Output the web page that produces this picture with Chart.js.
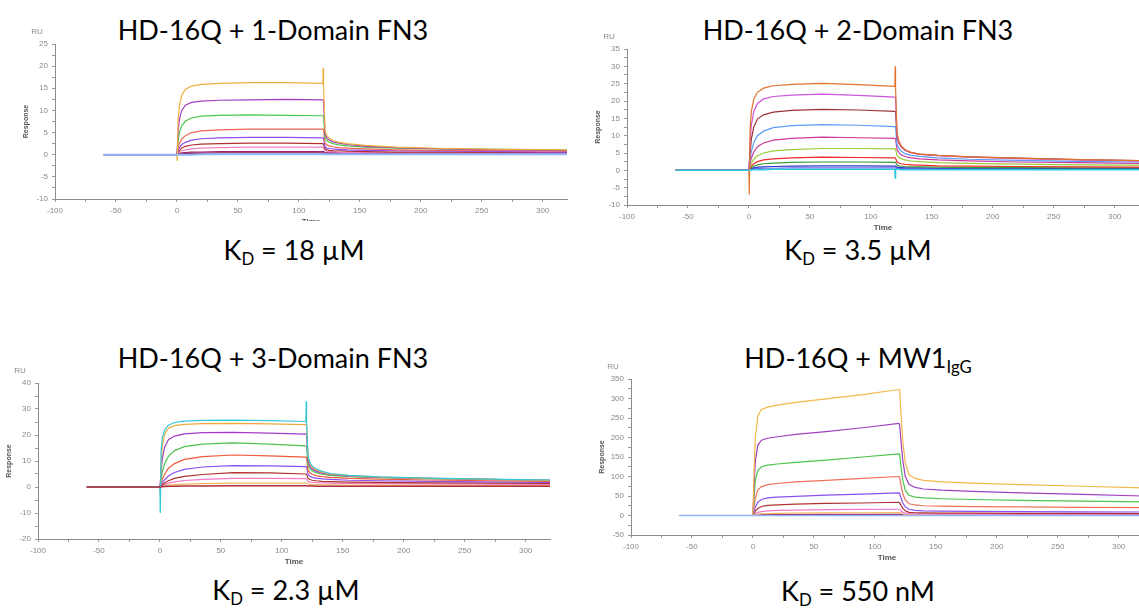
<!DOCTYPE html>
<html><head><meta charset="utf-8">
<script src="https://cdn.jsdelivr.net/npm/chart.js@4.4.1/dist/chart.umd.min.js"></script>
<style>
html,body{margin:0;padding:0;background:#fff;width:1139px;height:608px;overflow:hidden;position:relative;}
.box{position:absolute;overflow:hidden;}
.box canvas{display:block;}
.lbl{position:absolute;font-family:Lato,'Open Sans',sans-serif;font-size:27px;line-height:27px;color:#000;white-space:nowrap;transform:translateX(-50%);}
.lbl sub{font-size:0.62em;vertical-align:-0.32em;line-height:0;}
</style></head><body>
<div class="lbl" style="left:273px;top:16px">HD-16Q + 1-Domain FN3</div>
<div class="lbl" style="left:858px;top:16px">HD-16Q + 2-Domain FN3</div>
<div class="lbl" style="left:273px;top:344px">HD-16Q + 3-Domain FN3</div>
<div class="lbl" style="left:858px;top:344px">HD-16Q + MW1<sub>IgG</sub></div>
<div class="lbl" style="left:294px;top:236px">K<sub>D</sub> = 18 µM</div>
<div class="lbl" style="left:858px;top:236px">K<sub>D</sub> = 3.5 µM</div>
<div class="lbl" style="left:286px;top:576px">K<sub>D</sub> = 2.3 µM</div>
<div class="lbl" style="left:858px;top:577px">K<sub>D</sub> = 550 nM</div>
<script>
// shared time axis (s)
const TIME = [-60, 0, 0.3, 1, 2, 4, 7, 12, 20, 35, 60, 90, 119.7, 120, 120.3, 121.5, 123, 125, 128, 133, 140, 155, 180, 220, 270, 320];
const X_LABELS = [-100, -50, 0, 50, 100, 150, 200, 250, 300];

// Panel 1: 1-Domain FN3
const Y1_LABELS = [-10, -5, 0, 5, 10, 15, 20, 25];
const p1Blue    = [0, 0, null, 0, 0, 0, 0, 0, 0.1, 0.1, 0.1, 0.1, 0.1, null, 0.1, 0.1, 0.1, 0.1, 0.1, 0.1, 0.1, 0.1, 0.1, 0.1, 0.1, 0.1];
const p1Orange  = [0, 0, -1.4, 8, 11, 13.5, 14.8, 15.5, 15.9, 16.1, 16.3, 16.3, 16.1, 19.6, 16.0, 5.5, 4.3, 3.7, 3.2, 2.8, 2.5, 2.1, 1.7, 1.4, 1.2, 1.1];
const p1Purple  = [0, 0, null, 5, 8, 10, 11.2, 11.8, 12.1, 12.3, 12.4, 12.5, 12.4, null, 12.3, 4.6, 3.8, 3.3, 2.9, 2.6, 2.3, 1.9, 1.6, 1.3, 1.1, 0.9];
const p1Green   = [0, 0, null, 3, 5, 6.5, 7.6, 8.3, 8.7, 8.9, 9.0, 8.9, 8.8, null, 8.7, 3.8, 3.2, 2.8, 2.5, 2.2, 2.0, 1.7, 1.5, 1.3, 1.2, 1.1];
const p1Red     = [0, 0, null, 1.5, 2.5, 3.5, 4.3, 5.0, 5.4, 5.6, 5.8, 5.8, 5.8, null, 5.7, 2.6, 2.2, 2.0, 1.8, 1.6, 1.5, 1.3, 1.1, 1.0, 0.9, 0.8];
const p1Violet  = [0, 0, null, 1.0, 1.6, 2.3, 2.8, 3.3, 3.6, 3.8, 3.9, 3.9, 3.8, null, 3.7, 1.8, 1.5, 1.4, 1.3, 1.2, 1.1, 1.0, 0.9, 0.8, 0.7, 0.6];
const p1DarkRed = [0, 0, null, 0.6, 1.0, 1.5, 1.9, 2.2, 2.4, 2.5, 2.6, 2.6, 2.5, null, 2.4, 1.3, 1.1, 1.0, 0.9, 0.9, 0.8, 0.7, 0.6, 0.6, 0.5, 0.5];
const p1Pink    = [0, 0, null, 0.4, 0.6, 0.9, 1.1, 1.3, 1.5, 1.6, 1.7, 1.7, 1.7, null, 1.6, 0.9, 0.8, 0.7, 0.7, 0.6, 0.6, 0.5, 0.5, 0.4, 0.4, 0.4];
const p1Magenta = [0, 0, null, 0.2, 0.3, 0.4, 0.5, 0.6, 0.6, 0.7, 0.7, 0.7, 0.7, null, 0.7, 0.5, 0.4, 0.4, 0.4, 0.4, 0.3, 0.3, 0.3, 0.3, 0.3, 0.3];
const p1Maroon  = [0, 0, null, 0.1, 0.2, 0.2, 0.3, 0.3, 0.3, 0.4, 0.4, 0.4, 0.4, null, 0.4, 0.3, 0.3, 0.3, 0.3, 0.3, 0.3, 0.3, 0.2, 0.2, 0.2, 0.2];

// Panel 2: 2-Domain FN3
const Y2_LABELS = [-10, -5, 0, 5, 10, 15, 20, 25, 30, 35];
const p2Cyan      = [0, 0, null, 0.1, 0.1, 0.2, 0.2, 0.2, 0.3, 0.3, 0.3, 0.3, 0.3, -2.2, 0.3, 0.3, 0.3, 0.2, 0.2, 0.2, 0.2, 0.2, 0.2, 0.2, 0.2, 0.2];
const p2Orange    = [0, 0, -7, 12, 17, 20.5, 22.5, 23.7, 24.4, 24.8, 25.1, 24.7, 24.2, 30, 24.0, 11, 8.5, 7.0, 6.0, 5.2, 4.7, 4.3, 3.9, 3.5, 3.1, 2.8];
const p2Lilac     = [0, 0, null, 8, 13, 17, 19.3, 20.6, 21.3, 21.7, 22.0, 21.6, 21.1, null, 21.0, 10, 8.0, 6.8, 5.8, 5.1, 4.6, 4.2, 3.8, 3.4, 3.0, 2.7];
const p2Brown     = [0, 0, null, 5, 9, 12.5, 14.8, 16.0, 16.8, 17.3, 17.6, 17.4, 17.0, null, 16.9, 9.5, 7.8, 6.7, 5.8, 5.1, 4.7, 4.3, 3.9, 3.5, 3.1, 2.8];
const p2LightBlue = [0, 0, null, 3, 5.5, 8, 10, 11.3, 12.3, 12.9, 13.2, 13.0, 12.6, null, 12.5, 7.5, 6.3, 5.5, 4.8, 4.3, 4.0, 3.6, 3.2, 2.9, 2.6, 2.4];
const p2Magenta   = [0, 0, null, 2, 3.5, 5.3, 6.8, 7.9, 8.7, 9.2, 9.6, 9.4, 9.2, null, 9.1, 6.0, 5.1, 4.5, 4.0, 3.6, 3.3, 3.0, 2.7, 2.4, 2.2, 2.0];
const p2Lime      = [0, 0, null, 1, 2, 3.2, 4.2, 5.0, 5.6, 6.0, 6.3, 6.3, 6.2, null, 6.1, 4.3, 3.7, 3.3, 3.0, 2.7, 2.5, 2.2, 2.0, 1.8, 1.6, 1.5];
const p2Red       = [0, 0, null, 0.6, 1.2, 1.9, 2.5, 3.0, 3.3, 3.6, 3.8, 3.7, 3.6, null, 3.5, 2.4, 2.1, 1.9, 1.7, 1.6, 1.5, 1.3, 1.2, 1.1, 1.0, 0.9];
const p2Green     = [0, 0, null, 0.4, 0.8, 1.2, 1.6, 1.9, 2.1, 2.3, 2.4, 2.4, 2.3, null, 2.3, 1.5, 1.3, 1.2, 1.1, 1.0, 1.0, 0.9, 0.8, 0.8, 0.7, 0.7];
const p2Blue      = [0, 0, null, 0.3, 0.5, 0.7, 0.9, 1.0, 1.1, 1.2, 1.3, 1.3, 1.2, null, 1.2, 0.9, 0.8, 0.8, 0.7, 0.7, 0.7, 0.6, 0.6, 0.6, 0.5, 0.5];
const p2Purple    = [0, 0, null, 0.2, 0.3, 0.4, 0.5, 0.6, 0.6, 0.7, 0.7, 0.7, 0.7, null, 0.7, 0.5, 0.5, 0.5, 0.4, 0.4, 0.4, 0.4, 0.4, 0.4, 0.4, 0.4];

// Panel 3: 3-Domain FN3
const Y3_LABELS = [-20, -10, 0, 10, 20, 30, 40];
const p3Maroon  = [0, 0, null, 0.1, 0.1, 0.2, 0.3, 0.3, 0.4, 0.4, 0.5, 0.5, 0.5, null, 0.5, 0.4, 0.4, 0.4, 0.3, 0.3, 0.3, 0.3, 0.3, 0.3, 0.3, 0.3];
const p3Cyan    = [0, 0, -10, 14, 19, 22, 23.8, 24.8, 25.3, 25.6, 25.7, 25.5, 25.2, 33, 25.0, 12, 9.5, 8.0, 7.0, 6.0, 5.2, 4.5, 3.9, 3.4, 3.0, 2.7];
const p3Orange  = [0, 0, -3, 10, 16, 20.5, 22.6, 23.6, 24.1, 24.4, 24.5, 24.3, 24.0, null, 24.0, 11.5, 9.0, 7.6, 6.6, 5.7, 5.0, 4.4, 3.8, 3.3, 2.9, 2.5];
const p3Purple  = [0, 0, null, 6, 11, 15.5, 18.2, 19.6, 20.4, 20.9, 21.0, 20.7, 20.3, null, 20.2, 10, 8.0, 6.9, 6.1, 5.3, 4.8, 4.2, 3.7, 3.3, 2.9, 2.6];
const p3Green   = [0, 0, null, 3, 6, 9, 11.8, 14.0, 15.5, 16.5, 17.0, 16.5, 15.8, null, 15.7, 8.5, 7.0, 6.2, 5.5, 4.9, 4.5, 4.0, 3.6, 3.2, 2.9, 2.6];
const p3Red     = [0, 0, null, 1.5, 3, 5, 7.2, 9.0, 10.6, 11.7, 12.3, 12.0, 11.5, null, 11.4, 6.5, 5.5, 4.9, 4.4, 4.0, 3.7, 3.3, 3.0, 2.7, 2.4, 2.2];
const p3Violet  = [0, 0, null, 0.8, 1.6, 2.8, 4.2, 5.6, 6.8, 7.7, 8.2, 8.1, 7.8, null, 7.7, 4.8, 4.1, 3.7, 3.4, 3.1, 2.9, 2.6, 2.4, 2.2, 2.0, 1.8];
const p3DarkRed = [0, 0, null, 0.4, 0.9, 1.6, 2.4, 3.3, 4.1, 4.8, 5.5, 5.4, 5.0, null, 4.9, 3.3, 2.9, 2.6, 2.4, 2.2, 2.1, 1.9, 1.8, 1.6, 1.5, 1.4];
const p3Pink    = [0, 0, null, 0.3, 0.6, 1.0, 1.5, 2.0, 2.5, 2.9, 3.3, 3.3, 3.2, null, 3.1, 2.2, 1.9, 1.8, 1.7, 1.6, 1.5, 1.4, 1.3, 1.2, 1.1, 1.0];
const p3Amber   = [0, 0, null, 0.1, 0.3, 0.5, 0.7, 0.9, 1.1, 1.3, 1.5, 1.5, 1.5, null, 1.5, 1.1, 1.0, 0.9, 0.9, 0.8, 0.8, 0.7, 0.7, 0.6, 0.6, 0.5];

// Panel 4: MW1 IgG
const Y4_LABELS = [-50, 0, 50, 100, 150, 200, 250, 300, 350];
const p4Blue    = [0, 0, null, 0, 0, 0, 0, 0, 0, 0, 0, 0, 0, null, 0, 0, 0, 0, 0, 0, 0, 0, 0, 0, 0, 0];
const p4Orange  = [0, 0, null, 120, 200, 255, 272, 278, 283, 290, 299, 310, 323, null, 322, 260, 190, 135, 105, 95, 90, 86, 83, 79, 75, 71];
const p4Purple  = [0, 0, null, 80, 140, 180, 193, 198, 202, 208, 215, 225, 236, null, 234, 190, 140, 100, 80, 72, 68, 65, 62, 58, 54, 50];
const p4Green   = [0, 0, null, 50, 90, 115, 125, 129, 132, 136, 142, 150, 158, null, 157, 125, 90, 65, 52, 47, 45, 43, 41, 39, 37, 35];
const p4Salmon  = [0, 0, null, 25, 45, 65, 74, 79, 82, 86, 90, 95, 100, null, 99, 78, 55, 40, 30, 27, 25, 24, 23, 22, 21, 20];
const p4Violet  = [0, 0, null, 12, 22, 34, 41, 45, 47, 49, 52, 55, 58, null, 57, 45, 32, 22, 16, 13, 12, 11, 10.5, 10, 9.5, 9];
const p4DarkRed = [0, 0, null, 6, 11, 18, 23, 26, 27, 29, 31, 32, 34, null, 33, 26, 18, 12, 8, 7, 6.5, 6, 6, 5.5, 5.5, 5];
const p4Pink    = [0, 0, null, 3, 5, 8, 10, 12, 13, 14, 15, 15.5, 16, null, 16, 12, 8, 6, 4.5, 4, 4, 3.5, 3.5, 3, 3, 3];
const p4Amber   = [0, 0, null, 1, 2, 3.5, 4.5, 5, 5.5, 6, 6.5, 7, 7.5, null, 7.5, 6, 4, 3, 2.5, 2.2, 2, 2, 2, 1.8, 1.8, 1.6];
const p4Magenta = [0, 0, null, 0.5, 1, 1.5, 2, 2, 2.5, 2.5, 3, 3, 3, null, 3, 2.5, 2, 1.5, 1.2, 1, 1, 1, 1, 1, 1, 1];

const FONT = "'Liberation Sans', Arial, sans-serif";
const toPts = arr => TIME.map((t, i) => ({x: t, y: arr[i]})).filter(p => p.y !== null);

const ruPlugin = {
  id: 'ru',
  afterDraw(chart) {
    const {ctx, chartArea} = chart;
    ctx.save();
    ctx.font = '8px ' + FONT;
    ctx.fillStyle = '#8a8a8a';
    ctx.textAlign = 'center';
    ctx.textBaseline = 'middle';
    ctx.fillText('RU', chartArea.left - 18, chartArea.top - 12);
    ctx.restore();
  }
};

function makePanel(geo, yMin, yMax, yLabels, series) {
  const YW = 45, PT = 20, PR = 15, XH = 30;
  const w = YW + geo.W + PR, h = PT + geo.H + XH;
  const box = document.createElement('div');
  box.className = 'box';
  box.style.left = (geo.L - YW) + 'px';
  box.style.top = (geo.T - PT) + 'px';
  box.style.width = w + 'px';
  box.style.height = (geo.clip || h) + 'px';
  const cv = document.createElement('canvas');
  cv.width = w; cv.height = h;
  box.appendChild(cv);
  document.body.appendChild(box);
  const step = (yLabels[1] - yLabels[0]) / 2;
  new Chart(cv, {
    type: 'line',
    data: {datasets: series.map(s => ({data: toPts(s.v), borderColor: s.c, borderWidth: s.w || 1.2, pointRadius: 0, tension: 0, fill: false}))},
    options: {
      responsive: false, animation: false, devicePixelRatio: 1,
      layout: {padding: {left: 0, top: PT, right: PR, bottom: 0}, autoPadding: false},
      plugins: {legend: {display: false}, tooltip: {enabled: false}},
      scales: {
        x: {
          type: 'linear', min: -100, max: 320,
          afterFit: s => { s.height = XH; },
          ticks: {stepSize: 25, includeBounds: false, autoSkip: false, maxRotation: 0, padding: 4,
                  font: {size: 8, family: FONT}, color: '#8a8a8a',
                  callback: v => X_LABELS.includes(v) ? String(v) : ''},
          grid: {drawOnChartArea: false, tickLength: 3, color: '#9a9a9a'},
          border: {color: '#8a8a8a'},
          title: {display: true, text: 'Time', font: {size: 8, weight: 'bold', family: FONT}, color: '#555', padding: {top: 0, bottom: 2}}
        },
        y: {
          type: 'linear', min: yMin, max: yMax,
          afterFit: s => { s.width = YW; },
          ticks: {stepSize: step, includeBounds: false, autoSkip: false, padding: 4,
                  font: {size: 8, family: FONT}, color: '#8a8a8a',
                  callback: v => yLabels.includes(v) ? String(v) : ''},
          grid: {drawOnChartArea: false, tickLength: 3, color: '#9a9a9a'},
          border: {color: '#8a8a8a'},
          title: {display: true, text: 'Response', font: {size: 7, weight: 'bold', family: FONT}, color: '#555', padding: {top: 12, bottom: 0}}
        }
      }
    },
    plugins: [ruPlugin]
  });
}

makePanel({L: 55, T: 44, W: 512, H: 155, clip: 197}, -10, 25, Y1_LABELS, [
  {v: p1Blue, c: '#93b6ff', w: 2},
  {v: p1Orange, c: '#f0b040'},
  {v: p1Purple, c: '#a33cc0'},
  {v: p1Green, c: '#4cc84c'},
  {v: p1Red, c: '#f06450'},
  {v: p1Violet, c: '#8c50f0'},
  {v: p1DarkRed, c: '#b03030'},
  {v: p1Pink, c: '#f080c0'},
  {v: p1Magenta, c: '#a0206c'},
  {v: p1Maroon, c: '#802040'}
]);

makePanel({L: 627, T: 49, W: 512, H: 156}, -10, 35, Y2_LABELS, [
  {v: p2Cyan, c: '#30c8e0', w: 1.5},
  {v: p2Orange, c: '#e0742c'},
  {v: p2Lilac, c: '#cc55dd'},
  {v: p2Brown, c: '#9a3434'},
  {v: p2LightBlue, c: '#5b9cf5'},
  {v: p2Magenta, c: '#cc3a9c'},
  {v: p2Lime, c: '#9acb3c'},
  {v: p2Red, c: '#ee2a2a'},
  {v: p2Green, c: '#3a9a3a'},
  {v: p2Blue, c: '#2b35d0'},
  {v: p2Purple, c: '#7766dd'}
]);

makePanel({L: 38, T: 383, W: 512, H: 156}, -20, 40, Y3_LABELS, [
  {v: p3Maroon, c: '#b03040', w: 1.5},
  {v: p3Cyan, c: '#35c8d8'},
  {v: p3Orange, c: '#f0a93a'},
  {v: p3Purple, c: '#a23cc4'},
  {v: p3Green, c: '#4cc24c'},
  {v: p3Red, c: '#f05a3c'},
  {v: p3Violet, c: '#8a50f0'},
  {v: p3DarkRed, c: '#b0302c'},
  {v: p3Pink, c: '#f07ac4'},
  {v: p3Amber, c: '#f2b860'}
]);

makePanel({L: 631, T: 379, W: 512, H: 156}, -50, 350, Y4_LABELS, [
  {v: p4Blue, c: '#93b6ff', w: 1.5},
  {v: p4Orange, c: '#f0b848'},
  {v: p4Purple, c: '#a040c0'},
  {v: p4Green, c: '#4cc44c'},
  {v: p4Salmon, c: '#f0705c'},
  {v: p4Violet, c: '#8a50f0'},
  {v: p4DarkRed, c: '#b03030'},
  {v: p4Pink, c: '#f07ad0'},
  {v: p4Amber, c: '#f2b860'},
  {v: p4Magenta, c: '#9a1d6a'}
]);
</script>
</body></html>
